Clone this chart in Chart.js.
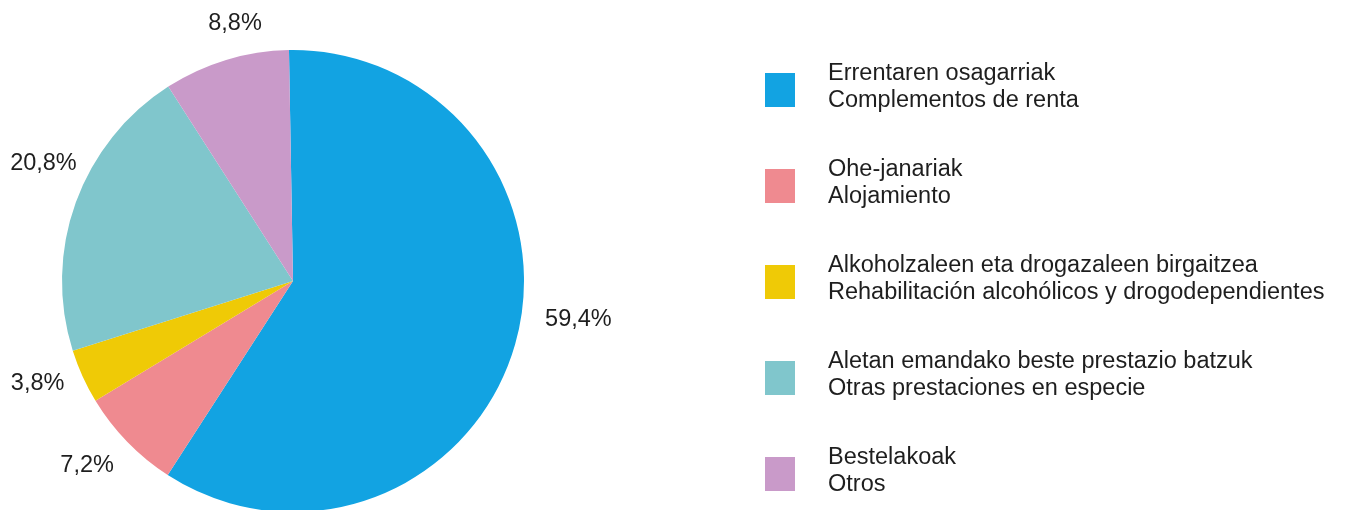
<!DOCTYPE html>
<html lang="es">
<head>
    <meta charset="UTF-8">
    <title>Prestaciones</title>
    <script src="https://cdn.jsdelivr.net/npm/chart.js"></script>
    <style>
        html, body { margin: 0; padding: 0; background: #fff; overflow: hidden; height: 510px; }
        #wrap { position: relative; width: 1345px; height: 520px; }
    </style>
</head>
<body>
<div id="wrap">
    <canvas id="pieChart"></canvas>
</div>

<script>
// data
var labelsEu = ['Errentaren osagarriak', 'Ohe-janariak', 'Alkoholzaleen eta drogazaleen birgaitzea', 'Aletan emandako beste prestazio batzuk', 'Bestelakoak'];
var labelsEs = ['Complementos de renta', 'Alojamiento', 'Rehabilitación alcohólicos y drogodependientes', 'Otras prestaciones en especie', 'Otros'];
var shares = [59.4, 7.2, 3.8, 20.8, 8.8];
var colors = ['#12a3e2', '#ef8a90', '#efca06', '#80c6cc', '#c99ac9'];

// small hand nudges so the % labels sit where the original has them
var labelNudge = [[20, -37], [-8, -8], [-4, -12], [10, -24], [22, 7]];

var pctLabels = {
    id: 'pctLabels',
    afterDatasetsDraw: function(chart) {
        var ctx = chart.ctx;
        var meta = chart.getDatasetMeta(0);
        ctx.save();
        ctx.font = '23.5px "Liberation Sans", Arial, sans-serif';
        ctx.fillStyle = '#1e1e1e';
        ctx.textAlign = 'center';
        ctx.textBaseline = 'middle';
        meta.data.forEach(function(arc, i) {
            var mid = (arc.startAngle + arc.endAngle) / 2;
            var r = arc.outerRadius + 45;
            var x = arc.x + Math.cos(mid) * r + labelNudge[i][0];
            var y = arc.y + Math.sin(mid) * r + labelNudge[i][1];
            ctx.fillText(shares[i].toFixed(1).replace('.', ',') + '%', x, y);
        });
        ctx.restore();
    }
};

// two-line legend on the right
var sideLegend = {
    id: 'sideLegend',
    afterDraw: function(chart) {
        var ctx = chart.ctx;
        ctx.save();
        ctx.font = '23.5px "Liberation Sans", Arial, sans-serif';
        ctx.textBaseline = 'middle';
        for (var i = 0; i < labelsEu.length; i++) {
            var y = 73 + i * 96;
            ctx.fillStyle = colors[i];
            ctx.fillRect(765, y, 30, 34);
            ctx.fillStyle = '#1e1e1e';
            ctx.fillText(labelsEu[i], 828, y + 1);
            ctx.fillText(labelsEs[i], 828, y + 28);
        }
        ctx.restore();
    }
};

var ctxPie = document.getElementById('pieChart').getContext('2d');
var pieChart = new Chart(ctxPie, {
    type: 'pie',
    data: {
        labels: labelsEs,
        datasets: [{
            data: shares,
            backgroundColor: colors,
            borderWidth: 0,
            hoverBorderWidth: 0,
            hoverOffset: 0
        }]
    },
    options: {
        responsive: true,
        maintainAspectRatio: false,
        animation: false,
        rotation: -1,
        layout: {
            padding: { left: 62, top: 50, right: 821, bottom: 8 }
        },
        plugins: {
            legend: { display: false },
            tooltip: { enabled: false }
        }
    },
    plugins: [pctLabels, sideLegend]
});
</script>
</body>
</html>
